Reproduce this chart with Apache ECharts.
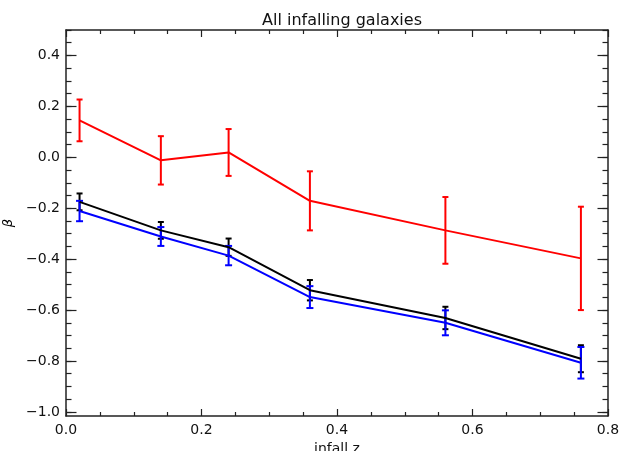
<!DOCTYPE html>
<html>
<head>
<meta charset="utf-8">
<script src="https://cdn.jsdelivr.net/npm/echarts@6/dist/echarts.min.js"></script>
<style>html,body{margin:0;padding:0;background:#fff;}#c{width:625px;height:451px;}</style>
</head>
<body>
<div id="c"></div>
<script>
// Data
const xVals = [0.02, 0.14, 0.24, 0.36, 0.56, 0.76];
const redY = [0.145, -0.012, 0.019, -0.171, -0.287, -0.397];
const redErr = [0.082, 0.095, 0.092, 0.116, 0.131, 0.203];
const blackY = [-0.175, -0.287, -0.353, -0.522, -0.631, -0.791];
const blackErr = [0.033, 0.033, 0.034, 0.040, 0.044, 0.053];
const blueY = [-0.211, -0.311, -0.386, -0.549, -0.650, -0.807];
const blueErr = [0.040, 0.037, 0.038, 0.043, 0.049, 0.062];
const yMajorTicks = [-1.0, -0.8, -0.6, -0.4, -0.2, 0.0, 0.2, 0.4];
const yMinorTicks = [-1.0, -0.95, -0.9, -0.85, -0.8, -0.75, -0.7, -0.65, -0.6, -0.55, -0.5, -0.45, -0.4, -0.35, -0.3, -0.25, -0.2, -0.15, -0.1, -0.05, 0.0, 0.05, 0.1, 0.15, 0.2, 0.25, 0.3, 0.35, 0.4, 0.45, 0.5];

const FONT = 'DejaVu Sans';
const AX = '#222';
const yMin = -1.016, yMax = 0.5;

function fmt(v) {
  const s = Math.abs(v).toFixed(1);
  return (v < -1e-9 ? '\u2212' : '') + s;
}

function pairs(ys) { return xVals.map((x, i) => [x, ys[i]]); }
function errData(ys, es) { return xVals.map((x, i) => [x, ys[i], es[i]]); }

function errSeries(ys, es, color, capHalf) {
  return {
    type: 'custom',
    data: errData(ys, es),
    z: 3,
    renderItem: function (params, api) {
      const x = api.value(0), y = api.value(1), e = api.value(2);
      const top = api.coord([x, y + e]);
      const bot = api.coord([x, y - e]);
      const st = { stroke: color, lineWidth: 2 };
      return {
        type: 'group',
        children: [
          { type: 'line', shape: { x1: top[0], y1: top[1], x2: bot[0], y2: bot[1] }, style: st },
          { type: 'line', shape: { x1: top[0] - capHalf, y1: top[1], x2: top[0] + capHalf, y2: top[1] }, style: st },
          { type: 'line', shape: { x1: bot[0] - capHalf, y1: bot[1], x2: bot[0] + capHalf, y2: bot[1] }, style: st }
        ]
      };
    }
  };
}

function lineSeries(ys, color) {
  return {
    type: 'line', data: pairs(ys), symbol: 'none', z: 3,
    lineStyle: { color: color, width: 2 }, animation: false
  };
}

function yAxisDef(pos, ticks, len, showLabel, showLine, name) {
  return {
    type: 'value', position: pos, min: yMin, max: yMax,
    name: name || '', nameLocation: 'middle', nameGap: 48, nameRotate: 90,
    nameTextStyle: { fontFamily: FONT, fontSize: 13, color: '#000', fontStyle: 'italic' },
    axisLine: { show: showLine, lineStyle: { color: AX, width: 1.5 } },
    axisTick: { show: true, inside: true, length: len, customValues: ticks, lineStyle: { color: AX, width: 1.2 } },
    axisLabel: { show: showLabel, customValues: yMajorTicks, formatter: fmt, margin: 6,
      fontFamily: FONT, fontSize: 14, color: '#111' },
    splitLine: { show: false }
  };
}

function xAxisDef(pos, showLabel, name) {
  return {
    type: 'value', position: pos, min: 0, max: 0.8, interval: 0.2,
    name: name || '', nameLocation: 'middle', nameGap: 23,
    nameTextStyle: { fontFamily: FONT, fontSize: 14, color: '#111' },
    axisLine: { show: true, onZero: false, lineStyle: { color: AX, width: 1.5 } },
    axisTick: { show: true, inside: true, length: 7, lineStyle: { color: AX, width: 1.2 } },
    minorTick: { show: true, splitNumber: 4, length: 4, lineStyle: { color: AX, width: 1.2 } },
    axisLabel: { show: showLabel, formatter: v => fmt(v), margin: 7,
      fontFamily: FONT, fontSize: 14, color: '#111' },
    splitLine: { show: false }
  };
}

const chart = echarts.init(document.getElementById('c'), null, { renderer: 'canvas' });
chart.setOption({
  animation: false,
  backgroundColor: '#fff',
  title: {
    text: 'All infalling galaxies', left: 337, textAlign: 'center', top: 8,
    textStyle: { fontFamily: FONT, fontSize: 16, fontWeight: 'normal', color: '#111' }
  },
  grid: { left: 66, right: 17, top: 30, bottom: 35, containLabel: false, outerBoundsMode: 'none' },
  xAxis: [xAxisDef('bottom', true, 'infall z'), xAxisDef('top', false)],
  yAxis: [
    yAxisDef('left', yMajorTicks, 10.5, true, true, '\u03B2'),
    yAxisDef('left', yMinorTicks, 5.5, false, false),
    yAxisDef('right', yMajorTicks, 10.5, false, true),
    yAxisDef('right', yMinorTicks, 5.5, false, false)
  ],
  series: [
    lineSeries(redY, '#ff0000'),
    errSeries(redY, redErr, '#ff0000', 3),
    lineSeries(blackY, '#000000'),
    errSeries(blackY, blackErr, '#000000', 3),
    lineSeries(blueY, '#0000ff'),
    errSeries(blueY, blueErr, '#0000ff', 3.5)
  ]
});
</script>
</body>
</html>
